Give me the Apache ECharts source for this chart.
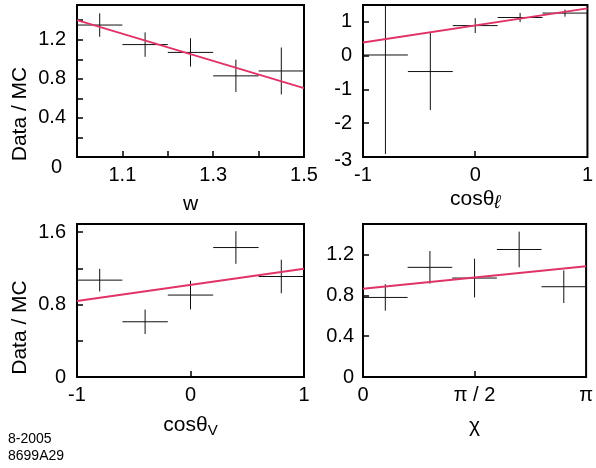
<!DOCTYPE html>
<html>
<head>
<meta charset="utf-8">
<script src="https://cdn.jsdelivr.net/npm/echarts@6.0.0/dist/echarts.min.js"></script>
<style>
  html, body { margin: 0; padding: 0; background: #fff; }
  #chart { width: 596px; height: 468px; }
</style>
</head>
<body>
<div id="chart"></div>
<script>
// panel 1: w
const wX = [1.05, 1.15, 1.25, 1.35, 1.45]
const wY = [1.35, 1.15, 1.07, 0.83, 0.88]
const wErr = [0.12, 0.125, 0.145, 0.165, 0.24]
const wHalf = 0.05
const wFit = [[1.0, 1.40], [1.5, 0.705]]

// panel 2: cos theta_l
const clX = [-0.8, -0.4, 0, 0.4, 0.8]
const clY = [0.02, -0.47, 0.89, 1.13, 1.26]
const clErr = [2.93, 1.14, 0.22, 0.135, 0.105]
const clHalf = 0.2
const clFit = [[-1, 0.39], [1, 1.40]]

// panel 3: cos theta_V
const cvX = [-0.8, -0.4, 0, 0.4, 0.8]
const cvY = [1.07, 0.61, 0.905, 1.43, 1.11]
const cvErr = [0.125, 0.135, 0.158, 0.18, 0.185]
const cvHalf = 0.2
const cvFit = [[-1, 0.84], [1, 1.195]]

// panel 4: chi (x in units of pi)
const chiX = [0.1, 0.3, 0.5, 0.7, 0.9]
const chiY = [0.78, 1.075, 0.97, 1.25, 0.885]
const chiErr = [0.13, 0.16, 0.19, 0.175, 0.16]
const chiHalf = 0.1
const chiFit = [[0, 0.865], [1, 1.085]]

const FONT = '"Liberation Sans", Arial, Helvetica, sans-serif'
const FIT_COLOR = '#e03368'

function points(xs, ys, errs, half) {
  return xs.map((x, i) => [x, ys[i], half, errs[i]])
}

function renderCross(params, api) {
  const x = api.value(0), y = api.value(1), dx = api.value(2), dy = api.value(3)
  const cs = params.coordSys
  const l = api.coord([x - dx, y])
  const r = api.coord([x + dx, y])
  const t = api.coord([x, y + dy])
  const b = api.coord([x, y - dy])
  const top = Math.max(t[1], cs.y)
  const bot = Math.min(b[1], cs.y + cs.height)
  const style = { stroke: '#111', lineWidth: 1 }
  return {
    type: 'group',
    children: [
      { type: 'line', shape: { x1: l[0], y1: l[1], x2: r[0], y2: r[1] }, style },
      { type: 'line', shape: { x1: t[0], y1: top, x2: t[0], y2: bot }, style },
    ],
  }
}

const labelRich = {
  low: { fontFamily: FONT, fontSize: 20, color: '#000', padding: [21, 4, 0, 0] },
  low2: { fontFamily: FONT, fontSize: 20, color: '#000', padding: [7, 0, 0, 0] },
}

function axis(idx, min, max, ticks, labels, fmt, name, nameGap, nameStyle, margin) {
  return {
    type: 'value',
    gridIndex: idx,
    min, max,
    name: name || '',
    nameLocation: 'middle',
    nameGap: nameGap || 0,
    nameTextStyle: Object.assign({ fontFamily: FONT, fontSize: 21, color: '#000' }, nameStyle || {}),
    splitLine: { show: false },
    axisLine: { show: false, onZero: false },
    axisTick: { show: true, inside: true, length: 6, customValues: ticks, lineStyle: { color: '#000', width: 1.5 } },
    axisLabel: {
      show: true, customValues: labels, margin: margin || 8,
      fontFamily: FONT, fontSize: 20, color: '#000',
      formatter: fmt || ((v) => String(v)),
      rich: labelRich,
    },
  }
}

const grids = [
  { left: 77, top: 5, width: 227, height: 152 },
  { left: 363, top: 5, width: 226, height: 152 },
  { left: 77, top: 224, width: 227, height: 153 },
  { left: 363, top: 224, width: 226, height: 153 },
].map((g) => Object.assign({ show: true, borderColor: '#000', borderWidth: 2, backgroundColor: 'transparent' }, g))

const piFmt = (v) => (v === 0 ? '0' : v === 0.5 ? 'π / 2' : 'π')

const xAxis = [
  axis(0, 1.0, 1.5, [1.1, 1.2, 1.3, 1.4], [1.1, 1.3, 1.5], (v) => v.toFixed(1), 'w', 37),
  axis(1, -1, 1, [0], [-1, 0, 1], null, '{a|cosθ}{s|ℓ}', 30, {
    rich: {
      a: { fontFamily: FONT, fontSize: 21, color: '#000' },
      s: { fontFamily: FONT, fontSize: 19, color: '#000', fontStyle: 'italic', padding: [6, 0, 0, 0] },
    },
  }),
  axis(2, -1, 1, [0], [-1, 0, 1], null, '{a|cosθ}{s|V}', 36, {
    rich: {
      a: { fontFamily: FONT, fontSize: 21, color: '#000' },
      s: { fontFamily: FONT, fontSize: 15, color: '#000', padding: [10, 0, 0, 0] },
    },
  }),
  axis(3, 0, 1, [0.5], [0, 0.5, 1], piFmt, 'χ', 39),
]

const yAxis = [
  axis(0, 0, 1.555, [0.2, 0.4, 0.6, 0.8, 1.0, 1.2, 1.4], [0, 0.4, 0.8, 1.2],
    (v) => (v === 0 ? '{low|0}' : String(v)), 'Data / MC', 46, { padding: [0, 66, 0, 0] }, 11),
  axis(1, -3, 1.5, [-2, -1, 0, 1], [-3, -2, -1, 0, 1],
    (v) => (v === -3 ? '{low2|-3}' : String(v)), null, 0, null, 11),
  axis(2, 0, 1.69, [0.4, 0.8, 1.2, 1.6], [0, 0.8, 1.6], null, 'Data / MC', 46, { padding: [0, 54, 0, 0] }, 11),
  axis(3, 0, 1.5, [0.4, 0.8, 1.2], [0, 0.4, 0.8, 1.2], null, null, 0, null, 9),
]

const panels = [
  [points(wX, wY, wErr, wHalf), wFit],
  [points(clX, clY, clErr, clHalf), clFit],
  [points(cvX, cvY, cvErr, cvHalf), cvFit],
  [points(chiX, chiY, chiErr, chiHalf), chiFit],
]

const series = []
panels.forEach(([pts, fit], i) => {
  series.push({
    type: 'custom',
    xAxisIndex: i,
    yAxisIndex: i,
    renderItem: renderCross,
    data: pts,
    silent: true,
    z: 2,
  })
  series.push({
    type: 'line',
    xAxisIndex: i,
    yAxisIndex: i,
    data: fit,
    showSymbol: false,
    symbol: 'none',
    lineStyle: { color: FIT_COLOR, width: 2 },
    silent: true,
    z: 3,
  })
})

const chart = echarts.init(document.getElementById('chart'), null, { renderer: 'canvas' })
chart.setOption({
  animation: false,
  backgroundColor: '#fff',
  grid: grids,
  xAxis,
  yAxis,
  series,
  graphic: [
    { type: 'text', left: 8, top: 432, style: { text: '8-2005', font: '14px ' + FONT, fill: '#000' } },
    { type: 'text', left: 8, top: 449, style: { text: '8699A29', font: '14px ' + FONT, fill: '#000' } },
  ],
})
</script>
</body>
</html>
